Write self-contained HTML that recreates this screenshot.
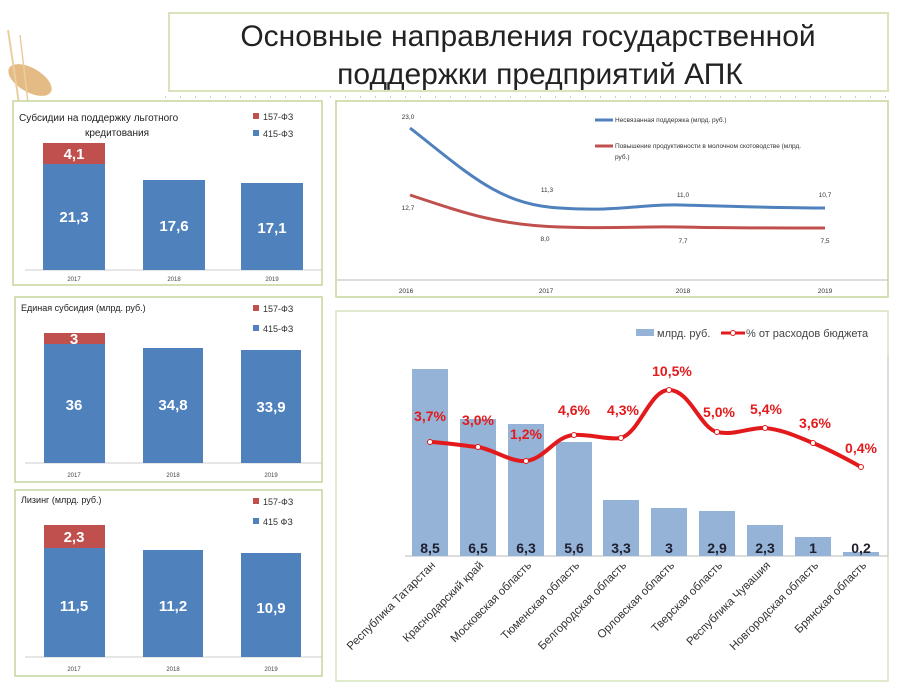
<!DOCTYPE html>
<html><head><meta charset="utf-8"><style>
body{margin:0;background:#fff}
svg{display:block;font-family:"Liberation Sans",sans-serif}
</style></head><body>
<svg width="900" height="691" viewBox="0 0 900 691">
<!-- wheat -->
<g opacity="0.85">
<ellipse cx="30" cy="80" rx="24" ry="12" fill="#e0b070" transform="rotate(30 30 80)"/>
<ellipse cx="45" cy="120" rx="30" ry="9" fill="#d9a560" transform="rotate(20 45 120)"/>
<ellipse cx="90" cy="108" rx="24" ry="5" fill="#e8c690" transform="rotate(-10 90 108)"/>
<line x1="8" y1="30" x2="20" y2="110" stroke="#e8c690" stroke-width="2"/>
<line x1="20" y1="35" x2="30" y2="120" stroke="#e8c690" stroke-width="1.5"/>
</g>
<!-- title -->
<rect x="169" y="13" width="719" height="78" fill="#fff" stroke="#d7e4bd" stroke-width="2"/>
<text x="528" y="46" font-size="30" text-anchor="middle" fill="#222">Основные направления государственной</text>
<text x="540" y="84" font-size="30" text-anchor="middle" fill="#222">поддержки предприятий АПК</text>
<line x1="165" y1="97" x2="888" y2="97" stroke="#999" stroke-dasharray="1 14"/>

<!-- panel 1 -->
<rect x="13" y="101" width="309" height="184" fill="#fff" stroke="#c3d69b" stroke-width="1.5"/>
<text x="19" y="121" font-size="10" fill="#222">Субсидии на поддержку льготного</text>
<text x="117" y="136" font-size="10" text-anchor="middle" fill="#222">кредитования</text>
<rect x="253" y="113" width="6" height="6" fill="#c0504d"/><text x="263" y="120" font-size="9" fill="#333">157-ФЗ</text>
<rect x="253" y="130" width="6" height="6" fill="#4f81bd"/><text x="263" y="137" font-size="9" fill="#333">415-ФЗ</text>
<line x1="25" y1="270" x2="322" y2="270" stroke="#ccc"/>
<rect x="43" y="143" width="62" height="21" fill="#c0504d"/>
<rect x="43" y="164" width="62" height="106" fill="#4f81bd"/>
<rect x="143" y="180" width="62" height="90" fill="#4f81bd"/>
<rect x="241" y="183" width="62" height="87" fill="#4f81bd"/>
<g font-size="15" font-weight="bold" fill="#fff" text-anchor="middle">
<text x="74" y="159">4,1</text><text x="74" y="222">21,3</text><text x="174" y="231">17,6</text><text x="272" y="233">17,1</text></g>
<g font-size="6" fill="#444" text-anchor="middle"><text x="74" y="281">2017</text><text x="174" y="281">2018</text><text x="272" y="281">2019</text></g>

<!-- panel 2 -->
<rect x="15" y="297" width="307" height="185" fill="#fff" stroke="#c3d69b" stroke-width="1.5"/>
<text x="21" y="311" font-size="9" fill="#222">Единая субсидия (млрд. руб.)</text>
<rect x="253" y="305" width="6" height="6" fill="#c0504d"/><text x="263" y="312" font-size="9" fill="#333">157-ФЗ</text>
<rect x="253" y="325" width="6" height="6" fill="#4f81bd"/><text x="263" y="332" font-size="9" fill="#333">415-ФЗ</text>
<line x1="25" y1="463" x2="322" y2="463" stroke="#ccc"/>
<rect x="44" y="333" width="61" height="11" fill="#c0504d"/>
<rect x="44" y="344" width="61" height="119" fill="#4f81bd"/>
<rect x="143" y="348" width="60" height="115" fill="#4f81bd"/>
<rect x="241" y="350" width="60" height="113" fill="#4f81bd"/>
<g font-size="15" font-weight="bold" fill="#fff" text-anchor="middle">
<text x="74" y="344">3</text><text x="74" y="410">36</text><text x="173" y="410">34,8</text><text x="271" y="412">33,9</text></g>
<g font-size="6" fill="#444" text-anchor="middle"><text x="74" y="477">2017</text><text x="173" y="477">2018</text><text x="271" y="477">2019</text></g>

<!-- panel 3 -->
<rect x="15" y="490" width="307" height="186" fill="#fff" stroke="#c3d69b" stroke-width="1.5"/>
<text x="21" y="503" font-size="9" fill="#222">Лизинг (млрд. руб.)</text>
<rect x="253" y="498" width="6" height="6" fill="#c0504d"/><text x="263" y="505" font-size="9" fill="#333">157-ФЗ</text>
<rect x="253" y="518" width="6" height="6" fill="#4f81bd"/><text x="263" y="525" font-size="9" fill="#333">415 ФЗ</text>
<line x1="25" y1="657" x2="322" y2="657" stroke="#ccc"/>
<rect x="44" y="525" width="61" height="23" fill="#c0504d"/>
<rect x="44" y="548" width="61" height="109" fill="#4f81bd"/>
<rect x="143" y="550" width="60" height="107" fill="#4f81bd"/>
<rect x="241" y="553" width="60" height="104" fill="#4f81bd"/>
<g font-size="15" font-weight="bold" fill="#fff" text-anchor="middle">
<text x="74" y="542">2,3</text><text x="74" y="611">11,5</text><text x="173" y="611">11,2</text><text x="271" y="613">10,9</text></g>
<g font-size="6" fill="#444" text-anchor="middle"><text x="74" y="671">2017</text><text x="173" y="671">2018</text><text x="271" y="671">2019</text></g>

<!-- top right line chart -->
<rect x="336" y="101" width="552" height="196" fill="#fff" stroke="#c3d69b" stroke-width="1.5"/>
<line x1="337" y1="280" x2="888" y2="280" stroke="#bbb"/>
<path d="M410,128 C470,175 500,205 560,208 C620,212 640,204 680,205 C720,206 780,208 825,208" fill="none" stroke="#4f81bd" stroke-width="3"/>
<path d="M410,195 C470,215 500,225 560,227 C620,229 640,226 680,227 C720,228 780,228 825,228" fill="none" stroke="#c0504d" stroke-width="3"/>
<g font-size="6.5" fill="#333" text-anchor="middle">
<text x="408" y="119">23,0</text><text x="547" y="192">11,3</text><text x="683" y="197">11,0</text><text x="825" y="197">10,7</text>
<text x="408" y="210">12,7</text><text x="545" y="241">8,0</text><text x="683" y="243">7,7</text><text x="825" y="243">7,5</text>
<text x="406" y="293">2016</text><text x="546" y="293">2017</text><text x="683" y="293">2018</text><text x="825" y="293">2019</text></g>
<line x1="595" y1="120" x2="613" y2="120" stroke="#4f81bd" stroke-width="3"/>
<text x="615" y="122" font-size="6.5" fill="#333">Несвязанная поддержка (млрд. руб.)</text>
<line x1="595" y1="146" x2="613" y2="146" stroke="#c0504d" stroke-width="3"/>
<text x="615" y="148" font-size="6.5" fill="#333">Повышение продуктивности в молочном скотоводстве (млрд.</text>
<text x="615" y="159" font-size="6.5" fill="#333">руб.)</text>

<!-- bottom right -->
<rect x="336" y="311" width="552" height="370" fill="#fff" stroke="#d7e4bd" stroke-width="1.5"/>
<line x1="405" y1="556" x2="888" y2="556" stroke="#bbb"/>
<line x1="888" y1="356" x2="888" y2="556" stroke="#ccc"/>
<g fill="#95b3d7">
<rect x="412" y="369" width="36" height="187"/>
<rect x="460" y="419" width="36" height="137"/>
<rect x="508" y="424" width="36" height="132"/>
<rect x="556" y="442" width="36" height="114"/>
<rect x="603" y="500" width="36" height="56"/>
<rect x="651" y="508" width="36" height="48"/>
<rect x="699" y="511" width="36" height="45"/>
<rect x="747" y="525" width="36" height="31"/>
<rect x="795" y="537" width="36" height="19"/>
<rect x="843" y="552" width="36" height="4"/>
</g>
<g font-size="14" font-weight="bold" fill="#1f1f2f" text-anchor="middle">
<text x="430" y="553">8,5</text><text x="478" y="553">6,5</text><text x="526" y="553">6,3</text><text x="574" y="553">5,6</text><text x="621" y="553">3,3</text>
<text x="669" y="553">3</text><text x="717" y="553">2,9</text><text x="765" y="553">2,3</text><text x="813" y="553">1</text><text x="861" y="553">0,2</text></g>
<path d="M430,442 C450,443 465,446 478,447 C495,450 510,462 526,461 C545,459 555,436 574,435 C590,434 608,440 621,438 C640,432 650,390 669,390 C690,390 700,428 717,432 C735,436 750,427 765,428 C785,430 800,438 813,443 C830,450 845,458 861,467" fill="none" stroke="#e31a1c" stroke-width="4"/>
<g fill="#fff" stroke="#e31a1c" stroke-width="1">
<circle cx="430" cy="442" r="2.5"/><circle cx="478" cy="447" r="2.5"/><circle cx="526" cy="461" r="2.5"/><circle cx="574" cy="435" r="2.5"/><circle cx="621" cy="438" r="2.5"/>
<circle cx="669" cy="390" r="2.5"/><circle cx="717" cy="432" r="2.5"/><circle cx="765" cy="428" r="2.5"/><circle cx="813" cy="443" r="2.5"/><circle cx="861" cy="467" r="2.5"/></g>
<g font-size="14" font-weight="bold" fill="#e31a1c" text-anchor="middle">
<text x="430" y="421">3,7%</text><text x="478" y="425">3,0%</text><text x="526" y="439">1,2%</text><text x="574" y="415">4,6%</text><text x="623" y="415">4,3%</text>
<text x="672" y="376">10,5%</text><text x="719" y="417">5,0%</text><text x="766" y="414">5,4%</text><text x="815" y="428">3,6%</text><text x="861" y="453">0,4%</text></g>
<rect x="636" y="329" width="18" height="7" fill="#95b3d7"/>
<text x="657" y="337" font-size="11" fill="#444">млрд. руб.</text>
<line x1="721" y1="333" x2="745" y2="333" stroke="#e31a1c" stroke-width="3"/>
<circle cx="733" cy="333" r="2.5" fill="#fff" stroke="#e31a1c"/>
<text x="746" y="337" font-size="11" fill="#444">% от расходов бюджета</text>
<g font-size="11.5" fill="#333" text-anchor="end">
<text transform="translate(436,566) rotate(-45)">Республика Татарстан</text>
<text transform="translate(484,566) rotate(-45)">Краснодарский край</text>
<text transform="translate(532,566) rotate(-45)">Московская область</text>
<text transform="translate(580,566) rotate(-45)">Тюменская область</text>
<text transform="translate(627,566) rotate(-45)">Белгородская область</text>
<text transform="translate(675,566) rotate(-45)">Орловская область</text>
<text transform="translate(723,566) rotate(-45)">Тверская область</text>
<text transform="translate(771,566) rotate(-45)">Республика Чувашия</text>
<text transform="translate(819,566) rotate(-45)">Новгородская область</text>
<text transform="translate(867,566) rotate(-45)">Брянская область</text>
</g>
</svg>
</body></html>
